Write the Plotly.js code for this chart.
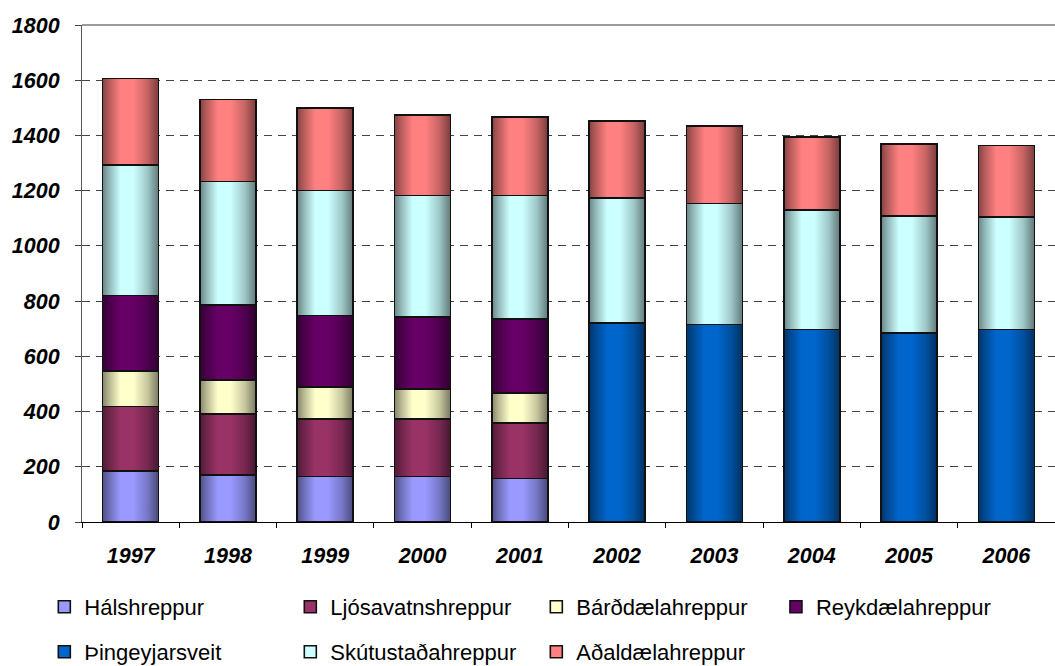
<!DOCTYPE html>
<html>
<head>
<meta charset="utf-8">
<script src="https://cdn.plot.ly/plotly-3.0.1.min.js"></script>
<style>
html,body{margin:0;padding:0;background:#fff;}
#chart{width:1055px;height:666px;}
</style>
</head>
<body>
<svg width="0" height="0" style="position:absolute">
  <defs id="gradDefs"></defs>
</svg>
<div id="chart"></div>
<script>
// ---- data ----
const years = ['1997','1998','1999','2000','2001','2002','2003','2004','2005','2006'];
const halshreppur       = [185, 170, 165, 165, 158, null, null, null, null, null];
const ljosavatnshreppur = [233, 222, 209, 209, 200, null, null, null, null, null];
const bardaelahreppur   = [129, 122, 115, 107, 110, null, null, null, null, null];
const reykdaelahreppur  = [273, 273, 259, 261, 267, null, null, null, null, null];
const thingeyjarsveit   = [null, null, null, null, null, 720, 716, 697, 685, 697];
const skutustadahreppur = [473, 446, 453, 440, 447, 454, 438, 433, 424, 407];
const adaldaelahreppur  = [313, 297, 298, 291, 284, 279, 281, 265, 260, 259];

const seriesNames = ['Hálshreppur','Ljósavatnshreppur','Bárðdælahreppur','Reykdælahreppur','Þingeyjarsveit','Skútustaðahreppur','Aðaldælahreppur'];
const seriesValues = [halshreppur, ljosavatnshreppur, bardaelahreppur, reykdaelahreppur, thingeyjarsveit, skutustadahreppur, adaldaelahreppur];
const seriesColors = ['#9999FF','#993366','#FFFFCC','#660066','#0066CC','#CCFFFF','#FF8080'];
const seriesLegend = ['legend','legend','legend','legend3','legend2','legend2','legend2'];

// gradients
function hexToRgb(h){return [parseInt(h.substr(1,2),16),parseInt(h.substr(3,2),16),parseInt(h.substr(5,2),16)];}
function shade(h,f){const c=hexToRgb(h);return 'rgb('+c.map(v=>Math.round(v*f)).join(',')+')';}
const defs = document.getElementById('gradDefs');
const stops = [[0,0.52],[0.12,0.72],[0.32,1.0],[0.55,1.0],[0.8,0.78],[1,0.48]];
seriesColors.forEach((c,i)=>{
  const g = document.createElementNS('http://www.w3.org/2000/svg','linearGradient');
  g.setAttribute('id','grad'+i);
  g.setAttribute('x1','0');g.setAttribute('y1','0');g.setAttribute('x2','1');g.setAttribute('y2','0');
  stops.forEach(s=>{
    const st=document.createElementNS('http://www.w3.org/2000/svg','stop');
    st.setAttribute('offset',s[0]);
    st.setAttribute('stop-color',shade(c,s[1]));
    g.appendChild(st);
  });
  defs.appendChild(g);
});

const traces = seriesNames.map((n,i)=>({
  type:'bar',
  name:n,
  x:years,
  y:seriesValues[i],
  legend:seriesLegend[i],
  marker:{color:seriesColors[i], line:{color:'#111', width:1.6}},
  hoverinfo:'none'
}));

const tickFont = {family:'"Liberation Sans", Arial, sans-serif', size:21.5, color:'#000', weight:'bold', style:'italic'};
const legFont = {family:'"Liberation Sans", Arial, sans-serif', size:22, color:'#000'};

function leg(x, yPix){
  return {
    orientation:'h', xref:'container', yref:'container',
    x:x, y:1-yPix/666, xanchor:'left', yanchor:'middle',
    entrywidth:201, entrywidthmode:'pixels', traceorder:'normal',
    font:legFont, bgcolor:'rgba(0,0,0,0)'
  };
}

const layout = {
  width:1055, height:666,
  margin:{l:82, r:0, t:25, b:144, pad:0},
  paper_bgcolor:'#fff', plot_bgcolor:'#fff',
  barmode:'stack',
  bargap:0.425,
  showlegend:true,
  xaxis:{
    type:'category', range:[-0.5,9.5],
    tickson:'boundaries', ticks:'outside', ticklen:5, tickcolor:'#000', tickwidth:1,
    showline:true, linecolor:'#000', linewidth:1,
    showgrid:false, tickfont:tickFont, ticklabelstandoff:14
  },
  yaxis:{
    range:[0,1800], dtick:200, tick0:0,
    ticks:'outside', ticklen:6, tickcolor:'#444', tickwidth:1,
    showline:true, linecolor:'#555', linewidth:1,
    showgrid:true, gridcolor:'#444', gridwidth:1, griddash:'8px,6px',
    zeroline:false, tickfont:tickFont, ticklabelstandoff:11
  },
  legend:leg(0.042, 607),
  legend2:leg(0.042, 652),
  legend3:leg(0.7355, 607),
  shapes:[{type:'line', xref:'paper', yref:'paper', x0:0, x1:1, y0:1, y1:1, line:{color:'#9a9a9a', width:2}}]
};

Plotly.newPlot('chart', traces, layout, {displayModeBar:false, staticPlot:true}).then(gd=>{
  const groups = gd.querySelectorAll('.barlayer .trace');
  groups.forEach((g,i)=>{
    g.querySelectorAll('path').forEach(p=>{ p.style.fill = 'url(#grad'+i+')'; });
  });
});
</script>
</body>
</html>
